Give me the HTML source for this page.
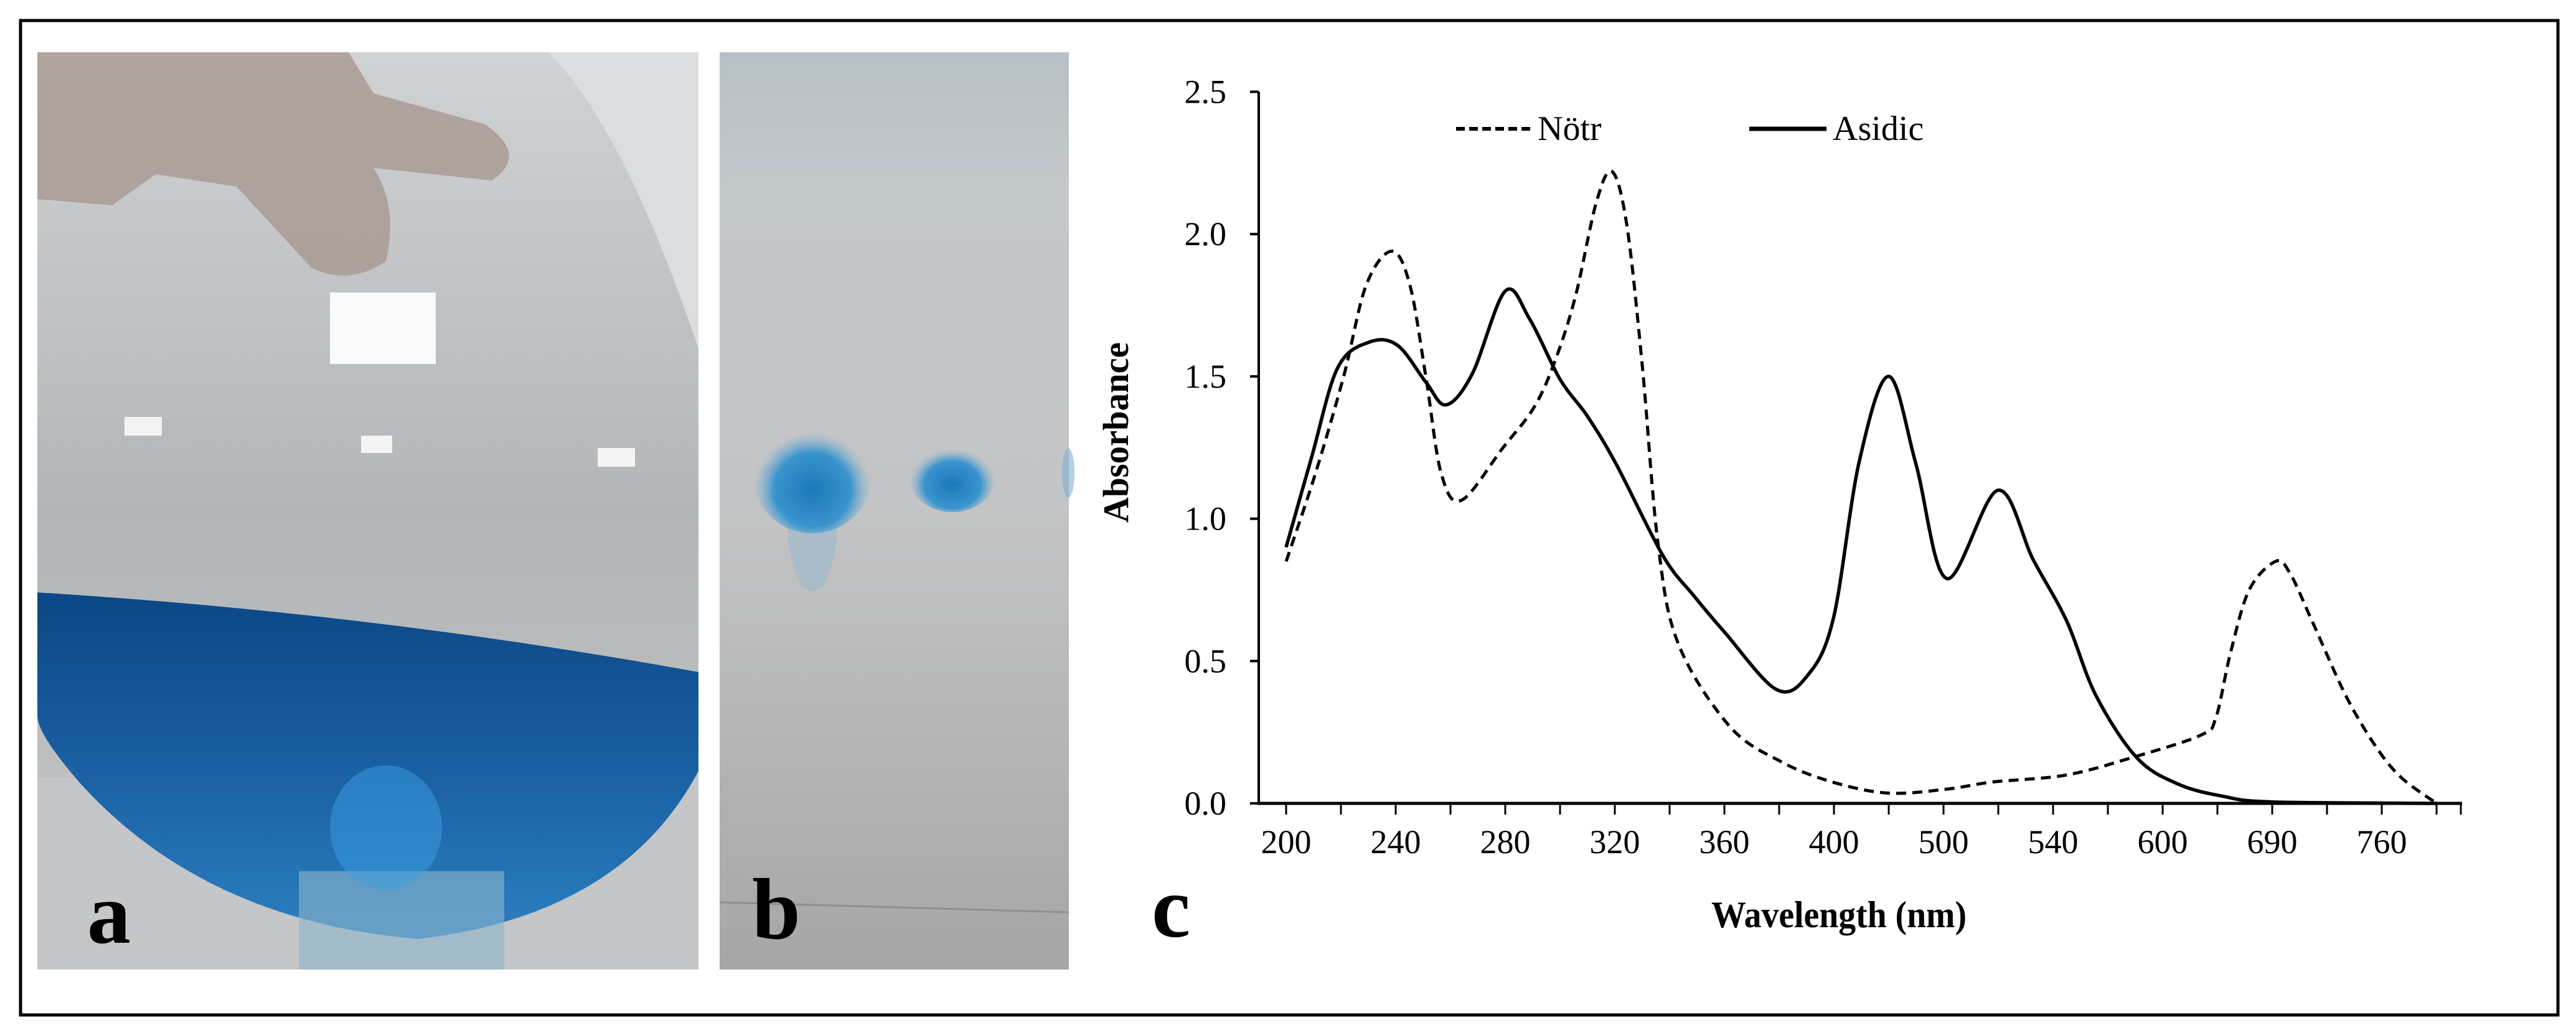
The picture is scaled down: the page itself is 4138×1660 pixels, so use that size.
<!DOCTYPE html>
<html><head><meta charset="utf-8">
<style>
html,body{margin:0;padding:0;background:#fff;}
svg{display:block;}
text{font-family:"Liberation Serif","Times New Roman",serif;fill:#000;}
</style></head>
<body>
<svg id="fig" width="4138" height="1660" viewBox="0 0 4138 1660" xmlns="http://www.w3.org/2000/svg">
<defs>
  <linearGradient id="bgA" x1="0" y1="0" x2="0" y2="1">
    <stop offset="0" stop-color="#d0d2d4"/><stop offset="0.5" stop-color="#b3b6b8"/><stop offset="1" stop-color="#c4c6c7"/>
  </linearGradient>
  <linearGradient id="liq" x1="0" y1="0" x2="0" y2="1">
    <stop offset="0" stop-color="#0c4785"/><stop offset="0.5" stop-color="#1a5fa2"/><stop offset="1" stop-color="#2a80c0"/>
  </linearGradient>
  <linearGradient id="bgB" x1="0" y1="0" x2="0" y2="1">
    <stop offset="0" stop-color="#b6c0c5"/><stop offset="0.15" stop-color="#c3c8cb"/><stop offset="0.5" stop-color="#c3c4c5"/><stop offset="1" stop-color="#a6a6a6"/>
  </linearGradient>
  <radialGradient id="spot" cx="0.5" cy="0.62" r="0.5">
    <stop offset="0" stop-color="#1a78b8"/><stop offset="0.65" stop-color="#3a94ce"/><stop offset="1" stop-color="#7fb3d3" stop-opacity="0"/>
  </radialGradient>
  <clipPath id="clipA"><rect x="60" y="84" width="1062" height="1474"/></clipPath>
</defs>

<rect x="33" y="33" width="4076" height="1598" fill="none" stroke="#000" stroke-width="5"/>

<g clip-path="url(#clipA)">
  <rect x="60" y="84" width="1062" height="1474" fill="url(#bgA)"/>
  <path d="M880,84 Q1000,200 1122,560 L1122,84 Z" fill="#dcdddf"/>
  <path d="M60,84 L560,84 L600,150 L780,200 Q850,250 790,290 L600,270 Q640,330 620,420 Q560,460 500,430 L380,300 L250,280 L180,330 L60,320 Z" fill="#a89890" opacity="0.8"/>
  <rect x="530" y="470" width="170" height="115" fill="#fafafa"/>
  <rect x="200" y="670" width="60" height="30" fill="#f4f4f4"/>
  <rect x="580" y="700" width="50" height="28" fill="#f4f4f4"/>
  <rect x="960" y="720" width="60" height="30" fill="#f4f4f4"/>
  <rect x="60" y="1250" width="1062" height="308" fill="#c4c6c7"/>
  <path d="M60,952 Q600,985 1122,1080 L1122,1239 Q1000,1470 672,1509 Q330,1480 130,1260 Q60,1180 60,1150 Z" fill="url(#liq)"/>
  <rect x="480" y="1400" width="330" height="158" fill="#8fb6cc" opacity="0.6"/>
  <ellipse cx="620" cy="1330" rx="90" ry="100" fill="#3a9ee0" opacity="0.5"/>
</g>
<text x="140" y="1515" font-size="140" font-weight="bold">a</text>

<g>
  <rect x="1156" y="84" width="561" height="1474" fill="url(#bgB)"/>
  <ellipse cx="1305" cy="840" rx="40" ry="110" fill="#8fb8d0" opacity="0.45"/>
  <ellipse cx="1305" cy="765" rx="95" ry="92" fill="url(#spot)"/>
  <ellipse cx="1530" cy="765" rx="70" ry="58" fill="url(#spot)"/>
  <ellipse cx="1716" cy="760" rx="10" ry="40" fill="#7fb0d0" opacity="0.6"/>
  <line x1="1156" y1="1450" x2="1717" y2="1466" stroke="#8e8e8e" stroke-width="3"/>
</g>
<text x="1208" y="1508" font-size="140" font-weight="bold">b</text>

<text x="1850" y="1505" font-size="140" font-weight="bold">c</text>

<g id="chart"></g>
</svg>
<script>
const categoryLabels = ['200','240','280','320','360','400','500','540','600','690','760'];
const yTicks = [0, 0.5, 1.0, 1.5, 2.0, 2.5];
const notrX = [0,0.52,1.05,1.46,1.93,2.26,2.55,2.83,3.2,3.96,4.52,4.9,5.28,5.66,5.95,6.22,6.5,6.79,7.16,8.1,9.05,9.99,11.0,12.06,12.89,14.25,15.53,16.7,16.97,17.24,17.58,18.06,18.32,18.73,19.34,19.89,20.36,21];
const notrY = [0.85,1.15,1.50,1.82,1.94,1.82,1.50,1.16,1.065,1.25,1.39,1.55,1.78,2.11,2.22,2.03,1.54,0.91,0.56,0.27,0.145,0.074,0.036,0.05,0.075,0.10,0.166,0.24,0.30,0.53,0.75,0.85,0.81,0.64,0.38,0.20,0.09,0];
const asidicX = [0,0.47,0.94,1.51,2.03,2.55,2.92,3.4,4.0,4.45,5.0,5.5,6.03,6.88,7.44,8.01,8.95,9.52,9.99,10.46,11.0,11.5,12.06,12.99,13.64,14.25,14.78,15.53,16.28,17.1,18.0,21];
const asidicY = [0.90,1.22,1.53,1.62,1.61,1.48,1.40,1.51,1.80,1.70,1.49,1.36,1.19,0.87,0.73,0.60,0.40,0.45,0.65,1.20,1.50,1.19,0.79,1.10,0.855,0.64,0.38,0.16,0.068,0.025,0.005,0];

const NS='http://www.w3.org/2000/svg';
const g=document.getElementById('chart');
function xs(i){return 2066+88*i;}
function ys(v){return 1291-v*457.4;}
function el(t,a){const e=document.createElementNS(NS,t);for(const k in a)e.setAttribute(k,a[k]);g.appendChild(e);return e;}

const yAxis=el('line',{x1:2022,y1:ys(2.5),x2:2022,y2:ys(0),stroke:'#000','stroke-width':4});


const xAxis=el('line',{x1:2020,y1:ys(0),x2:3955,y2:ys(0),stroke:'#000','stroke-width':5});



yTicks.forEach(v=>{
  const t=el('line',{x1:2008,y1:ys(v),x2:2022,y2:ys(v),stroke:'#000','stroke-width':4});
  
  
  const l=el('text',{x:1970,y:ys(v)+18,'font-size':54,'text-anchor':'end'});
  l.textContent=v.toFixed(1);
  
  
});
for(let k=0;k<=21;k++){
  const t=el('line',{x1:xs(k),y1:ys(0),x2:xs(k),y2:ys(0)+18,stroke:'#000','stroke-width':3});
  
  
}
const te=el('line',{x1:3953,y1:ys(0),x2:3953,y2:ys(0)+18,stroke:'#000','stroke-width':3});


categoryLabels.forEach((c,i)=>{
  const l=el('text',{x:xs(i*2),y:1371,'font-size':54,'text-anchor':'middle'});
  l.textContent=c;
  
  
});

const yt=el('text',{x:0,y:0,'font-size':58,'font-weight':'bold','text-anchor':'middle',transform:'translate(1812,695) rotate(-90)',textLength:290,lengthAdjust:'spacingAndGlyphs'});
yt.textContent='Absorbance';


const xt=el('text',{x:2954,y:1490,'font-size':60,'font-weight':'bold','text-anchor':'middle',textLength:410,lengthAdjust:'spacingAndGlyphs'});
xt.textContent='Wavelength (nm)';



function path(X,Y){
  const P=X.map((x,i)=>[xs(x),ys(Y[i])]);
  let d='M'+P[0][0]+','+P[0][1];
  for(let i=0;i<P.length-1;i++){
    const p0=P[i-1]||P[i],p1=P[i],p2=P[i+1],p3=P[i+2]||P[i+1];
    const c1=[p1[0]+(p2[0]-p0[0])/6,p1[1]+(p2[1]-p0[1])/6];
    const c2=[p2[0]-(p3[0]-p1[0])/6,p2[1]-(p3[1]-p1[1])/6];
    d+=' C'+c1[0].toFixed(1)+','+c1[1].toFixed(1)+' '+c2[0].toFixed(1)+','+c2[1].toFixed(1)+' '+p2[0].toFixed(1)+','+p2[1].toFixed(1);
  }
  return d;
}
const s1=el('path',{d:path(notrX,notrY),fill:'none',stroke:'#000','stroke-width':5,'stroke-dasharray':'16,10'});


const s2=el('path',{d:path(asidicX,asidicY),fill:'none',stroke:'#000','stroke-width':5.5});



const l1=el('line',{x1:2339,y1:207,x2:2462,y2:207,stroke:'#000','stroke-width':6,'stroke-dasharray':'14,7'});


const t1=el('text',{x:2470,y:225,'font-size':56});
t1.textContent='Nötr';


const l2=el('line',{x1:2810,y1:207,x2:2934,y2:207,stroke:'#000','stroke-width':7});


const t2=el('text',{x:2944,y:225,'font-size':56});
t2.textContent='Asidic';


</script>
</body></html>
